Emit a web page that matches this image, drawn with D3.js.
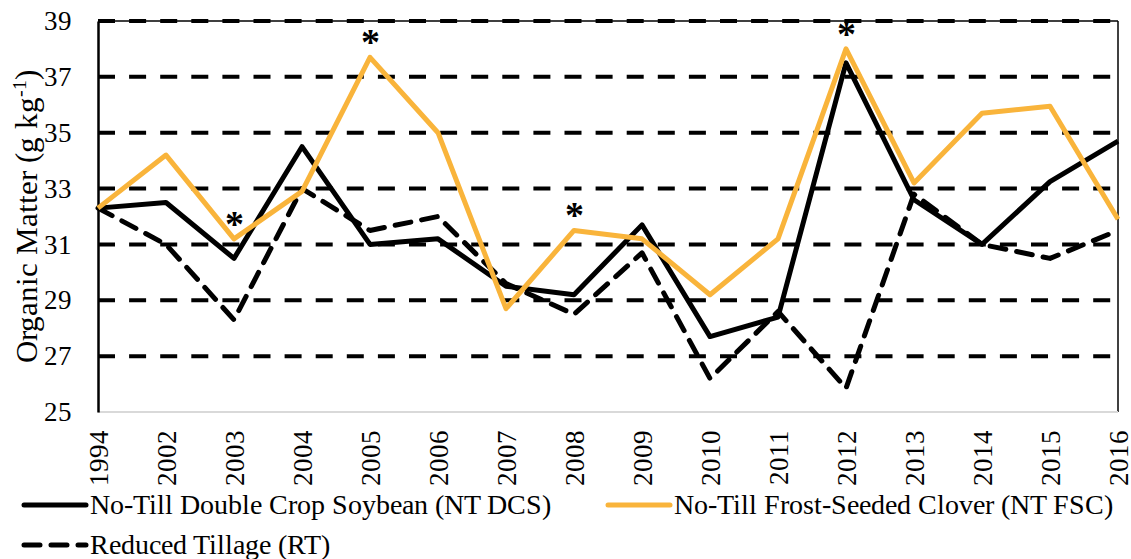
<!DOCTYPE html>
<html><head><meta charset="utf-8">
<script src="https://cdn.jsdelivr.net/npm/d3@7"></script>
<style>
@font-face { font-family: "ChartSerif"; src: local("Liberation Serif"), local("LiberationSerif"), local("Times New Roman"); font-weight: normal; }
@font-face { font-family: "ChartSerif"; src: local("Liberation Serif Bold"), local("LiberationSerif-Bold"); font-weight: bold; }
body{margin:0;background:#fff} svg{display:block}
</style>
</head><body>
<svg id="chart" width="1131" height="559"></svg>
<script>
const years = ["1994","2002","2003","2004","2005","2006","2007","2008","2009","2010","2011","2012","2013","2014","2015","2016"];
const ntDCS = [32.3,32.5,30.5,34.5,31.0,31.2,29.5,29.2,31.7,27.7,28.4,37.5,32.6,31.0,33.25,34.7];
const ntFSC = [32.3,34.2,31.2,32.9,37.7,35.0,28.7,31.5,31.2,29.2,31.2,38.0,33.2,35.7,35.95,31.9];
const rt    = [32.3,31.0,28.3,33.0,31.5,32.0,29.6,28.5,30.7,26.2,28.6,25.85,32.8,31.0,30.5,31.5];
const yTicks = [25,27,29,31,33,35,37,39];
const starYears = ["2003","2005","2008","2012"];
const seriesNames = ["No-Till Double Crop Soybean (NT DCS)","No-Till Frost-Seeded Clover (NT FSC)","Reduced Tillage (RT)"];

const svg = d3.select("#chart");
const L = 98, R = 1118, T = 21, B = 412;
const x = d3.scalePoint().domain(years).range([L, R]).padding(0);
const y = d3.scaleLinear().domain([25, 39]).range([B, T]);
const ORANGE = "#F9B43B";
const FF = '"ChartSerif", "Liberation Serif", "Times New Roman"';

// gridlines
svg.append("g").selectAll("line").data(yTicks.filter(d => d > 25)).join("line")
  .attr("x1", L).attr("x2", R).attr("y1", d => y(d)).attr("y2", d => y(d))
  .attr("stroke", "#000").attr("stroke-width", 4).attr("stroke-dasharray", "17,14.1");
svg.append("line").attr("x1", L).attr("x2", R).attr("y1", T).attr("y2", T).attr("stroke", "#000").attr("stroke-width", 1.5);
svg.append("line").attr("x1", R).attr("x2", R).attr("y1", T).attr("y2", B).attr("stroke", "#000").attr("stroke-width", 1.5);
svg.append("line").attr("x1", L).attr("x2", R).attr("y1", B).attr("y2", B).attr("stroke", "#d9d9d9").attr("stroke-width", 2);

// y axis
const yAxis = d3.axisLeft(y).tickValues(yTicks).tickSize(0).tickPadding(26);
const gy = svg.append("g").attr("transform", `translate(${L},0)`).call(yAxis);
gy.attr("font-family", null).attr("font-size", null);
gy.select(".domain").attr("stroke", "#000").attr("stroke-width", 2.5);
gy.selectAll("text").style("font-family", FF).style("font-size", "27px").attr("fill", "#000");

// x axis
const xAxis = d3.axisBottom(x).tickSize(0);
const gx = svg.append("g").attr("transform", `translate(0,${B})`).call(xAxis);
gx.attr("font-family", null).attr("font-size", null);
gx.select(".domain").remove();
gx.selectAll("text").style("font-family", FF).style("font-size", "27px").attr("fill", "#000")
  .attr("transform", "rotate(-90)").attr("text-anchor", "end")
  .attr("x", -18).attr("y", 0).attr("dy", "0.35em");

// y title
const title = svg.append("text").attr("transform", `translate(37,${(T+B)/2}) rotate(-90)`)
  .attr("text-anchor", "middle").style("font-family", FF).style("font-size", "31px").attr("fill", "#000");
title.append("tspan").text("Organic Matter (g kg");
title.append("tspan").style("font-size", "20px").attr("dy", -11).text("-1");
title.append("tspan").attr("dy", 11).text(")");

// lines
const line = d3.line().x((d, i) => x(years[i])).y(d => y(d));
svg.append("path").datum(rt).attr("d", line).attr("fill", "none").attr("stroke", "#000")
  .attr("stroke-width", 5).attr("stroke-dasharray", "16,11").attr("stroke-linecap", "round").attr("stroke-linejoin", "round");
svg.append("path").datum(ntDCS).attr("d", line).attr("fill", "none").attr("stroke", "#000")
  .attr("stroke-width", 5).attr("stroke-linejoin", "round");
svg.append("path").datum(ntFSC).attr("d", line).attr("fill", "none").attr("stroke", ORANGE)
  .attr("stroke-width", 5).attr("stroke-linejoin", "round");

// asterisks
svg.append("g").selectAll("text").data(starYears).join("text")
  .attr("x", d => x(d))
  .attr("y", d => { const i = years.indexOf(d); return y(Math.max(ntDCS[i], ntFSC[i], rt[i])) - 2; })
  .attr("text-anchor", "middle").style("font-family", FF).style("font-weight", "bold")
  .style("font-size", "38px").attr("fill", "#000").text("*");

// legend
const leg = [
  {name: seriesNames[0], x0: 22, y0: 505, color: "#000", dash: null},
  {name: seriesNames[1], x0: 606, y0: 505, color: ORANGE, dash: null},
  {name: seriesNames[2], x0: 22, y0: 545, color: "#000", dash: "16,11"}
];
const lg = svg.append("g").selectAll("g").data(leg).join("g");
lg.append("line").attr("x1", d => d.x0 + 2).attr("x2", d => d.x0 + 64).attr("y1", d => d.y0).attr("y2", d => d.y0)
  .attr("stroke", d => d.color).attr("stroke-width", 5).attr("stroke-linecap", "round")
  .attr("stroke-dasharray", d => d.dash);
lg.append("text").attr("x", d => d.x0 + 68).attr("y", d => d.y0 + 9)
  .style("font-family", FF).style("font-size", "28px").attr("fill", "#000").text(d => d.name);
</script>
</body></html>
